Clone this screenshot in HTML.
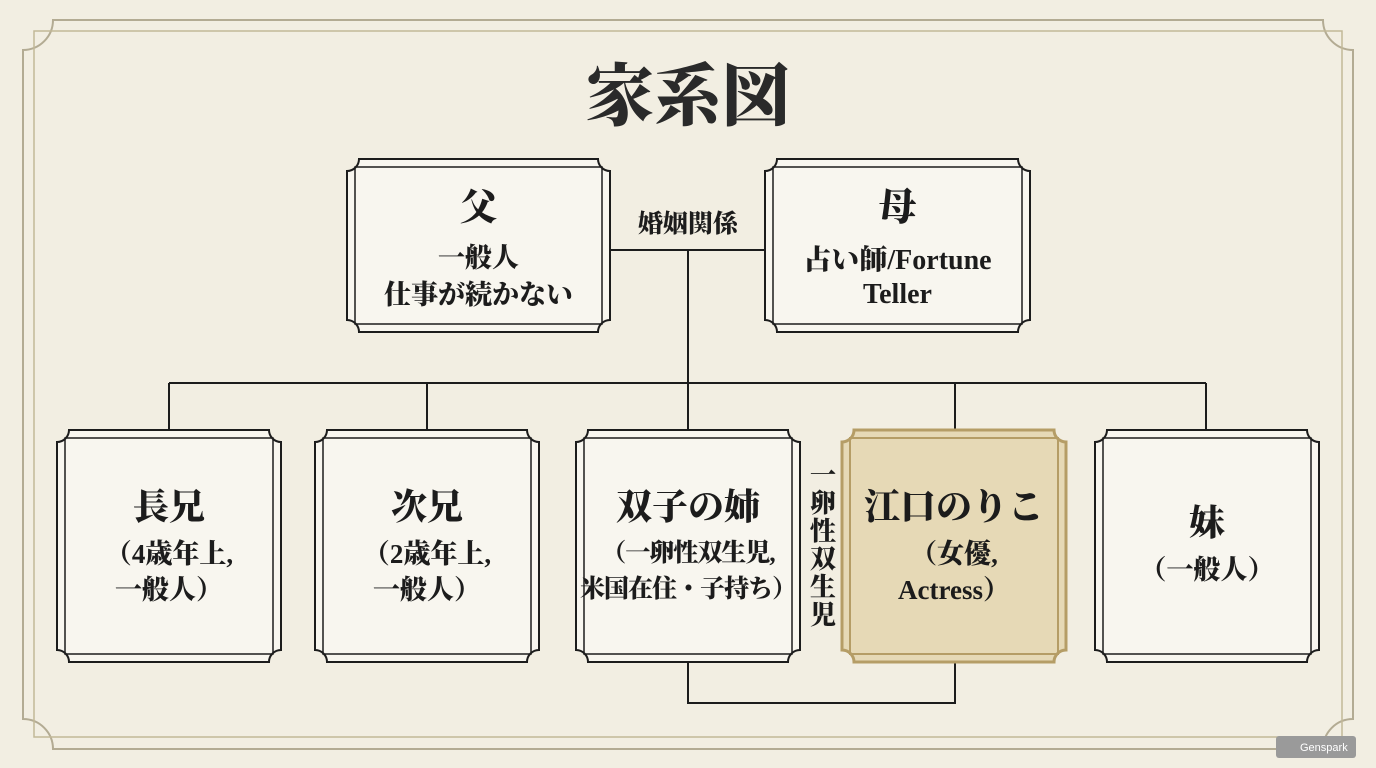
<!DOCTYPE html>
<html><head><meta charset="utf-8"><style>
body{margin:0;width:1376px;height:768px;background:#f2eee2;overflow:hidden;position:relative;font-family:"Liberation Serif","Noto Serif CJK JP","Noto Serif CJK SC",serif;color:#1c1c1c}
svg{position:absolute;left:0;top:0}
.t{position:absolute;text-align:center;font-weight:900;line-height:1.3}
</style></head><body>
<svg id="s" width="1376" height="768" viewBox="0 0 1376 768"></svg>
<div class="t" style="left:488px;top:52px;width:400px;font-size:68px;color:#2a2a2a;line-height:90px">家系図</div>
<div class="t" style="left:347px;top:183px;width:263px;font-size:38px;line-height:50px">父</div>
<div class="t" style="left:347px;top:240px;width:263px;font-size:27px;line-height:37px">一般人<br>仕事が続かない</div>
<div class="t" style="left:765px;top:183px;width:265px;font-size:38px;line-height:50px">母</div>
<div class="t" style="left:765px;top:244px;width:265px;font-size:28px;line-height:34px">占い師/Fortune<br>Teller</div>
<div class="t" style="top:208px;font-size:25px;line-height:34px;background:#f2eee2;width:124px;left:626px">婚姻関係</div>
<div class="t" style="left:57px;top:484px;width:224px;font-size:36px;line-height:46px">長兄</div>
<div class="t" style="left:57px;top:536px;width:224px;font-size:27px;line-height:36px">（4歳年上,<br>一般人）</div>
<div class="t" style="left:315px;top:484px;width:224px;font-size:36px;line-height:46px">次兄</div>
<div class="t" style="left:315px;top:536px;width:224px;font-size:27px;line-height:36px">（2歳年上,<br>一般人）</div>
<div class="t" style="left:576px;top:484px;width:224px;font-size:36px;line-height:46px">双子の姉</div>
<div class="t" style="left:568px;top:536px;width:240px;font-size:25px;line-height:36px;letter-spacing:-1px">（一卵性双生児,<br>米国在住・子持ち）</div>
<div class="t" style="left:842px;top:484px;width:224px;font-size:36px;line-height:46px">江口のりこ</div>
<div class="t" style="left:842px;top:536px;width:224px;font-size:27px;line-height:36px">（女優,<br>Actress）</div>
<div class="t" style="left:1095px;top:500px;width:224px;font-size:36px;line-height:46px">妹</div>
<div class="t" style="left:1095px;top:552px;width:224px;font-size:27px;line-height:36px">（一般人）</div>
<div class="t" style="left:806px;top:462px;width:34px;font-size:26px;line-height:28px">一<br>卵<br>性<br>双<br>生<br>児</div>
<script>
var s=document.getElementById('s'),h='';
function notch(x,y,w,H,r){var X=x+w,Y=y+H;return 'M'+(x+r)+' '+y+'L'+(X-r)+' '+y+'A'+r+' '+r+' 0 0 0 '+X+' '+(y+r)+'L'+X+' '+(Y-r)+'A'+r+' '+r+' 0 0 0 '+(X-r)+' '+Y+'L'+(x+r)+' '+Y+'A'+r+' '+r+' 0 0 0 '+x+' '+(Y-r)+'L'+x+' '+(y+r)+'A'+r+' '+r+' 0 0 0 '+(x+r)+' '+y+'Z';}
h+='<path d="'+notch(23,20,1330,729,30)+'" fill="none" stroke="#b3ab93" stroke-width="2"/>';
h+='<rect x="34" y="31" width="1308" height="706" fill="none" stroke="#c2b898" stroke-width="1.5"/>';
var L='stroke="#1c1c1c" stroke-width="2" fill="none"';
h+='<path d="M610 250H765M688 250V383M169 383H1206M169 383V430M427 383V430M688 383V430M955 383V430M1206 383V430M688 662V703H955V662" '+L+'/>';
function box(x,y,w,H,hl){var sc=hl?'#b59d66':'#1c1c1c',f=hl?'#e6d9b6':'#f8f6ef';
h+='<path d="'+notch(x,y,w,H,12)+'" fill="'+f+'" stroke="'+sc+'" stroke-width="'+(hl?3:2)+'"/>';
h+='<rect x="'+(x+8)+'" y="'+(y+8)+'" width="'+(w-16)+'" height="'+(H-16)+'" fill="none" stroke="'+sc+'" stroke-width="'+(hl?2:1.5)+'"/>';}
box(347,159,263,173);box(765,159,265,173);
box(57,430,224,232);box(315,430,224,232);box(576,430,224,232);box(842,430,224,232,1);box(1095,430,224,232);
h+='<rect x="1276" y="736" width="80" height="22" rx="3" fill="#9a9a9a"/><text x="1300" y="751" font-size="11" fill="#fff" font-family="Liberation Sans,sans-serif">Genspark</text>';
s.innerHTML=h;
</script>
</body></html>
